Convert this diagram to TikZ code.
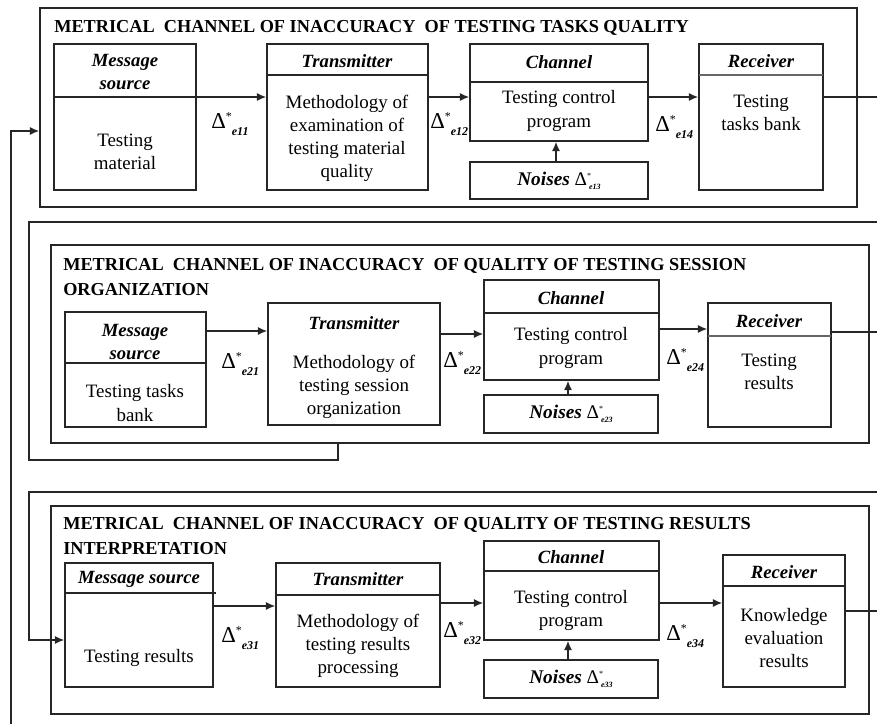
\documentclass[tikz,border=0pt]{standalone}
\usepackage{fontspec}
\setmainfont{Liberation Serif}
\usetikzlibrary{fit,arrows.meta}
\newcommand{\dlab}[1]{{\fontsize{17}{17}\selectfont Δ}\raisebox{5.4pt}{\fontsize{9}{9}\selectfont *}\raisebox{-5.6pt}{\fontsize{9}{9}\selectfont\bfseries\itshape #1}}
\newcommand{\nlab}[1]{Δ\rlap{\raisebox{5.5pt}{\fontsize{6}{6}\selectfont *}}\raisebox{-3pt}{\fontsize{6}{6}\selectfont\bfseries\itshape\hspace{1.5pt}#1}}
\begin{document}
\begin{tikzpicture}[x=0.75pt,y=-0.75pt,
  ln/.style={line width=1.1pt, draw=black!85},
  box/.style={ln, draw, inner sep=0pt, fit={#1}},
  arr/.style={ln, -{Latex[length=7pt,width=6pt]}},
  hd/.style={font=\fontsize{14}{17}\selectfont\bfseries\itshape, align=center, inner sep=0pt},
  bd/.style={font=\fontsize{14.2}{17.3}\selectfont, align=center, inner sep=0pt},
  ttl/.style={font=\fontsize{13.7}{18}\selectfont\bfseries, anchor=base west, inner sep=0pt},
  dl/.style={anchor=base west, inner sep=0pt},
  nz/.style={font=\fontsize{14.5}{17}\selectfont, inner sep=0pt},
  rdiv/.style={line width=1.6pt, draw=black!60}
]
\fill[white] (0,0) rectangle (877,724);
\useasboundingbox (0,0) rectangle (877,724);

% ================= Frame 1 =================
\node[box={(40,8) (857,207)}] (f1) {};
\node[ttl] (f1t) at (54,33) {METRICAL\ \ CHANNEL OF INACCURACY\ \ OF TESTING TASKS QUALITY};

\node[box={(54,44) (196,190)}] (ms1) {};
\draw[ln] (54,97) -- (196,97);
\node[hd] (ms1h) at (125,72) {Message\\source};
\node[bd] (ms1b) at (125,152) {Testing\\material};

\node[box={(267,44) (428,190)}] (tr1) {};
\draw[ln] (267,75) -- (428,75);
\node[hd] (tr1h) at (347,61) {Transmitter};
\node[bd] (tr1b) at (347,138) {Methodology of\\examination of\\testing material\\quality};

\node[box={(470,44) (648,141)}] (ch1) {};
\draw[ln] (470,82) -- (648,82);
\node[hd] (ch1h) at (559,62) {Channel};
\node[bd] (ch1b) at (559,111) {Testing control\\program};

\node[box={(470,162) (648,199)}] (nz1) {};
\node[nz] (nz1t) at (559,181) {\textbf{\textit{Noises}} \nlab{e13}};

\node[box={(699,44) (823,190)}] (rc1) {};
\draw[rdiv] (699,75) -- (823,75);
\node[hd] (rc1h) at (761,61) {Receiver};
\node[bd] (rc1b) at (761,113) {Testing\\tasks bank};

\coordinate (y1) at (0,97);
\coordinate (r1o) at (877,97);
\draw[arr] (ms1.east |- y1) -- (tr1.west |- y1);
\draw[arr] (tr1.east |- y1) -- (ch1.west |- y1);
\draw[arr] (ch1.east |- y1) -- (rc1.west |- y1);
\draw[ln] (rc1.east |- y1) -- (r1o);
\coordinate (n1x) at (556,0);
\draw[arr] (nz1.north -| n1x) -- (ch1.south -| n1x);

\node[dl] (d11) at (211,128) {\dlab{e11}};
\node[dl] (d12) at (430,128) {\dlab{e12}};
\node[dl] (d14) at (655,131) {\dlab{e14}};

% feedback line on the far left
\coordinate (fbot) at (11,724);
\coordinate (fturn) at (11,131);
\draw[arr] (fbot) -- (fturn) -- (fturn -| f1.west);

% ================= Frame 2 =================
\coordinate (c2a) at (877,222);
\coordinate (c2c) at (29,460);
\coordinate (f2s) at (338,443);
\draw[ln] (c2a) -| (c2c) -| (f2s);

\node[box={(51,245) (869,443)}] (f2) {};
\node[ttl] (f2t1) at (63,270) {METRICAL\ \ CHANNEL OF INACCURACY\ \ OF QUALITY OF TESTING SESSION};
\node[ttl] (f2t2) at (63,295) {ORGANIZATION};

\node[box={(65,312) (206,427)}] (ms2) {};
\draw[ln] (65,363) -- (206,363);
\node[hd] (ms2h) at (135,342) {Message\\source};
\node[bd] (ms2b) at (135,403) {Testing tasks\\bank};

\node[box={(268,303) (440,425)}] (tr2) {};
\node[hd] (tr2h) at (354,323) {Transmitter};
\node[bd] (tr2b) at (354,387) {Methodology of\\testing session\\organization};

\node[box={(484,280) (659,380)}] (ch2) {};
\draw[ln] (484,313) -- (659,313);
\node[hd] (ch2h) at (571,298) {Channel};
\node[bd] (ch2b) at (571,348) {Testing control\\program};

\node[box={(484,395) (658,433)}] (nz2) {};
\node[nz] (nz2t) at (571,414) {\textbf{\textit{Noises}} \nlab{e23}};

\node[box={(708,303) (831,427)}] (rc2) {};
\draw[rdiv] (708,336) -- (831,336);
\node[hd] (rc2h) at (769,321) {Receiver};
\node[bd] (rc2b) at (769,372) {Testing\\results};

\coordinate (y2a) at (0,331);
\coordinate (y2b) at (0,334);
\coordinate (y2c) at (0,329);
\coordinate (r2o) at (877,332);
\draw[arr] (ms2.east |- y2a) -- (tr2.west |- y2a);
\draw[arr] (tr2.east |- y2b) -- (ch2.west |- y2b);
\draw[arr] (ch2.east |- y2c) -- (rc2.west |- y2c);
\draw[ln] (rc2.east |- r2o) -- (r2o);
\coordinate (n2x) at (568,0);
\draw[arr] (nz2.north -| n2x) -- (ch2.south -| n2x);

\node[dl] (d21) at (221,368) {\dlab{e21}};
\node[dl] (d22) at (443,367) {\dlab{e22}};
\node[dl] (d24) at (666,364) {\dlab{e24}};

% ================= Frame 3 =================
\coordinate (c3a) at (877,492);
\coordinate (c3c) at (29,640);

\node[box={(51,506) (869,714)}] (f3) {};
\node[ttl] (f3t1) at (63,529) {METRICAL\ \ CHANNEL OF INACCURACY\ \ OF QUALITY OF TESTING RESULTS};
\node[ttl] (f3t2) at (63,554) {INTERPRETATION};

\node[box={(65,563) (213,687)}] (ms3) {};
\draw[ln] (65,593) -- (216,593);
\node[hd] (ms3h) at (139,579) {Message source};
\node[bd] (ms3b) at (139,658) {Testing results};

\node[box={(276,563) (440,687)}] (tr3) {};
\draw[ln] (276,595) -- (440,595);
\node[hd] (tr3h) at (358,579) {Transmitter};
\node[bd] (tr3b) at (358,646) {Methodology of\\testing results\\processing};

\node[box={(484,541) (659,640)}] (ch3) {};
\draw[ln] (484,571) -- (659,571);
\node[hd] (ch3h) at (571,557) {Channel};
\node[bd] (ch3b) at (571,610) {Testing control\\program};

\node[box={(484,660) (658,698)}] (nz3) {};
\node[nz] (nz3t) at (571,679) {\textbf{\textit{Noises}} \nlab{e33}};

\node[box={(723,555) (845,687)}] (rc3) {};
\draw[ln] (723,586) -- (845,586);
\node[hd] (rc3h) at (784,572) {Receiver};
\node[bd] (rc3b) at (784,638) {Knowledge\\evaluation\\results};

\draw[arr] (c3a) -| (c3c) -- (c3c -| ms3.west);

\coordinate (y3a) at (0,606);
\coordinate (y3b) at (0,603);
\coordinate (r3o) at (877,611);
\draw[arr] (ms3.east |- y3a) -- (tr3.west |- y3a);
\draw[arr] (tr3.east |- y3b) -- (ch3.west |- y3b);
\draw[arr] (ch3.east |- y3b) -- (rc3.west |- y3b);
\draw[ln] (rc3.east |- r3o) -- (r3o);
\draw[arr] (nz3.north -| n2x) -- (ch3.south -| n2x);

\node[dl] (d31) at (221,642) {\dlab{e31}};
\node[dl] (d32) at (443,637) {\dlab{e32}};
\node[dl] (d34) at (666,640) {\dlab{e34}};
\end{tikzpicture}
\end{document}
